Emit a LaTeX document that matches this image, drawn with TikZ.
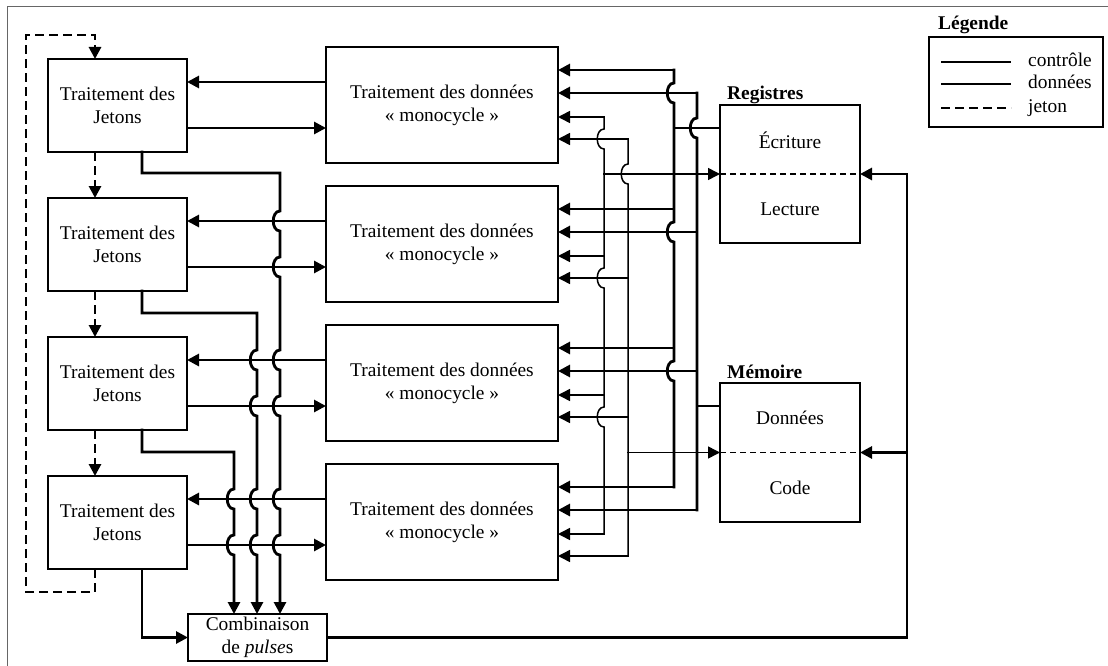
\documentclass[tikz,border=0pt]{standalone}
\usepackage{fontspec}
\setmainfont{Liberation Serif}
\usetikzlibrary{arrows.meta,calc}

\newcommand\lbl{\fontsize{19.4}{23}\selectfont}

\tikzset{
  box/.style={draw, line width=2.8pt, inner sep=0pt, outer sep=0pt,
              anchor=north west, font=\lbl, align=center},
  txt/.style={font=\lbl, inner sep=0pt},
  ctl/.style={line width=2.8pt, line cap=rect},
  dat/.style={line width=1.5pt, line cap=rect},
  tok/.style={line width=2.8pt, dash pattern=on 9pt off 5pt},
  split/.style={line width=1.8pt, dash pattern=on 6pt off 4pt},
  tip/.style={-{Triangle[length=12pt,width=12pt]}},
  frame/.style={black!60, line width=1pt},
}

\begin{document}
\begin{tikzpicture}[x=1pt,y=-1pt]
\useasboundingbox (0,0) rectangle (1108,666);
\draw[frame] (1108,7) -- (7,7) -- (7,666);

% column positions of the vertical lines
\coordinate (jx) at (95,0);   % token passing
\coordinate (tx) at (142,0);  % pulse exits
\coordinate (bA) at (604,0);  % register data bus
\coordinate (bB) at (628,0);  % memory data bus
\coordinate (bC) at (674,0);  % register control bus
\coordinate (bD) at (697,0);  % memory control bus
\coordinate (fb) at (907,0);  % feedback from pulse combination

% token processing units and single-cycle data units
\foreach \k/\y in {1/59,2/198,3/337,4/476}
  \node[box, minimum width=139pt, minimum height=93pt] (t\k) at (48,\y) {Traitement des\\Jetons};
\foreach \k/\y in {1/47,2/186,3/325,4/464}
  \node[box, minimum width=232pt, minimum height=116pt] (d\k) at (326,\y) {Traitement des données\\« monocycle »};

% register file
\node[box, minimum width=140pt, minimum height=138pt] (reg) at (720,105) {};
\node[txt] (regw) at (790,140) {Écriture};
\node[txt] (regr) at (790,209) {Lecture};
\draw[split] (reg.west) -- (reg.east);
\node[txt, font=\lbl\bfseries, anchor=base west] (regt) at (727,100) {Registres};

% memory
\node[box, minimum width=140pt, minimum height=139pt] (mem) at (720,383) {};
\node[txt] (memd) at (790,418) {Données};
\node[txt] (memc) at (790,488) {Code};
\draw[split] (mem.west) -- (mem.east);
\node[txt, font=\lbl\bfseries, anchor=base west] (memt) at (727,378) {Mémoire};

% pulse combination
\node[box, minimum width=139pt, minimum height=47pt] (comb) at (188,614) {Combinaison\\de \textit{pulse}s};

% links between each token unit and its data unit, and bus inputs
\foreach \k in {1,...,4} {
  \coordinate (t\k-in)  at ([yshift=-23pt]t\k.north east);
  \coordinate (t\k-out) at ([yshift=-69pt]t\k.north east);
  \coordinate (d\k-c1)  at ([yshift=-23pt]d\k.north east);
  \coordinate (d\k-c2)  at ([yshift=-46pt]d\k.north east);
  \coordinate (d\k-d1)  at ([yshift=-70pt]d\k.north east);
  \coordinate (d\k-d2)  at ([yshift=-92pt]d\k.north east);
  \draw[ctl,tip] (t\k-in -| d\k.west) -- (t\k-in);
  \draw[ctl,tip] (t\k-out) -- (t\k-out -| d\k.west);
  \draw[ctl,tip] (bC |- d\k-c1) -- (d\k-c1);
  \draw[ctl,tip] (bD |- d\k-c2) -- (d\k-c2);
  \draw[dat,tip] (bA |- d\k-d1) -- (d\k-d1);
  \draw[dat,tip] (bB |- d\k-d2) -- (d\k-d2);
}

% vertical buses, with hops over crossing lines
\draw[ctl] (bC |- d1-c1) \foreach \b in {93,232,371}{
  -- (674,\b-10) .. controls (665,\b-10) and (665,\b+10) .. (674,\b+10)} -- (bC |- d4-c1);
\draw[ctl] (bD |- d1-c2) \foreach \b in {128}{
  -- (697,\b-10) .. controls (688,\b-10) and (688,\b+10) .. (697,\b+10)} -- (bD |- d4-c2);
\draw[dat] (bA |- d1-d1) \foreach \b in {139,278,417}{
  -- (604,\b-10) .. controls (595,\b-10) and (595,\b+10) .. (604,\b+10)} -- (bA |- d4-d1);
\draw[dat] (bB |- d1-d2) \foreach \b in {174}{
  -- (628,\b-10) .. controls (619,\b-10) and (619,\b+10) .. (628,\b+10)} -- (bB |- d4-d2);

% bus connections to registers and memory
\coordinate (reg-w) at ([yshift=-23pt]reg.north west);
\coordinate (mem-w) at ([yshift=-23pt]mem.north west);
\draw[ctl] (bC |- reg-w) -- (reg-w);
\draw[ctl] (bD |- mem-w) -- (mem-w);
\draw[dat,tip] (bA |- reg.west) -- (reg.west);
\draw[dat,tip] (bB |- mem.west) -- (mem.west);

% feedback from the pulse combination
\draw[ctl,tip] (comb.east) -- (comb.east -| fb) -- (fb |- reg.east) -- (reg.east);
\draw[ctl,tip] (fb |- mem.east) -- (mem.east);

% pulse exits of the token units
\draw[ctl,tip] (tx |- t1.south) -- (142,173) -- (280,173)
  \foreach \b in {221,267,360,406,499,545}{
  -- (280,\b-10) .. controls (271,\b-10) and (271,\b+10) .. (280,\b+10)} -- (280,614);
\draw[ctl,tip] (tx |- t2.south) -- (142,313) -- (257,313)
  \foreach \b in {360,406,499,545}{
  -- (257,\b-10) .. controls (248,\b-10) and (248,\b+10) .. (257,\b+10)} -- (257,614);
\draw[ctl,tip] (tx |- t3.south) -- (142,452) -- (234,452)
  \foreach \b in {499,545}{
  -- (234,\b-10) .. controls (225,\b-10) and (225,\b+10) .. (234,\b+10)} -- (234,614);
\draw[ctl,tip] (tx |- t4.south) -- (tx |- comb.west) -- (comb.west);

% token ring
\foreach \k/\n in {1/2,2/3,3/4}
  \draw[tok,tip] (jx |- t\k.south) -- (jx |- t\n.north);
\draw[tok,tip] (jx |- t4.south) -- (95,592) -- (26,592) -- (26,35) -- (95,35) -- (jx |- t1.north);

% legend
\node[txt, font=\lbl\bfseries, anchor=base west] (legt) at (938,30) {Légende};
\node[draw, line width=2pt, inner sep=0pt, outer sep=0pt, anchor=north west,
      minimum width=174pt, minimum height=90pt] (leg) at (929,37) {};
\coordinate (l1) at (941,62);
\coordinate (l2) at (941,84);
\coordinate (l3) at (941,108);
\draw[line width=2.8pt] (l1) -- ++(70,0);
\draw[line width=1.5pt] (l2) -- ++(70,0);
\draw[tok] (l3) -- ++(70,0);
\node[txt, anchor=base west] (lc) at (1028,67) {contrôle};
\node[txt, anchor=base west] (ld) at (1028,89) {données};
\node[txt, anchor=base west] (lj) at (1028,113) {jeton};
\end{tikzpicture}
\end{document}
